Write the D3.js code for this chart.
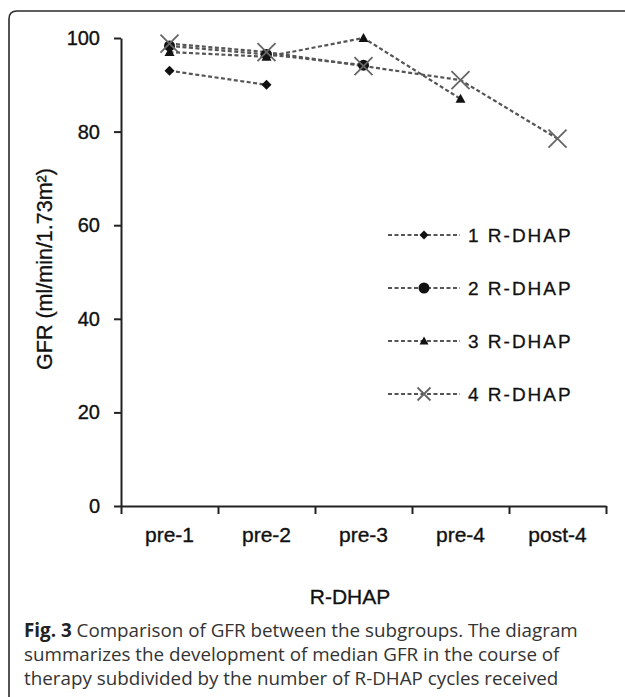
<!DOCTYPE html>
<html>
<head>
<meta charset="utf-8">
<script src="https://cdn.jsdelivr.net/npm/d3@7"></script>
<style>
  html, body { margin: 0; padding: 0; background: #fff; }
  svg { display: block; }
</style>
</head>
<body>
<svg id="chart" width="625" height="697"></svg>
<script>
// ---- data ----
const categories = ["pre-1", "pre-2", "pre-3", "pre-4", "post-4"];
const seriesNames = ["1 R-DHAP", "2 R-DHAP", "3 R-DHAP", "4 R-DHAP"];
const gfr1 = [93, 90, null, null, null];
const gfr2 = [98.3, 96.5, 94.2, null, null];
const gfr3 = [97, 96, 100, 87, null];
const gfr4 = [98.8, 97, 94, 91, 78.5];
const yTicks = [0, 20, 40, 60, 80, 100];
const yTitle = "GFR (ml/min/1.73m²)";
const xTitle = "R-DHAP";
const captionLines = [
  ["Fig. 3", " Comparison of GFR between the subgroups. The diagram"],
  ["", "summarizes the development of median GFR in the course of"],
  ["", "therapy subdivided by the number of R-DHAP cycles received"]
];

const series = [
  { name: seriesNames[0], values: gfr1, marker: "diamond" },
  { name: seriesNames[1], values: gfr2, marker: "circle" },
  { name: seriesNames[2], values: gfr3, marker: "triangle" },
  { name: seriesNames[3], values: gfr4, marker: "cross" }
];

const svg = d3.select("#chart");
const pLeft = 121, pRight = 606, pTop = 38, pBottom = 506;

// frame (rounded top-left corner, open right side)
svg.append("path")
  .attr("d", "M9,697 L9,19 Q9,11 17,11 L625,11")
  .attr("fill", "none").attr("stroke", "#2a2a2a").attr("stroke-width", 1.6);

const x = d3.scaleBand().domain(categories).range([pLeft, pRight]).paddingInner(0).paddingOuter(0);
const xEdge = d3.scaleLinear().domain([0, categories.length]).range([pLeft, pRight]);
const y = d3.scaleLinear().domain([0, 100]).range([pBottom, pTop]);
const cx = c => x(c) + x.bandwidth() / 2;

const font = "Liberation Sans, Arial, sans-serif";

// y axis
const yAxis = svg.append("g").attr("transform", `translate(${pLeft},0)`)
  .call(d3.axisLeft(y).tickValues(yTicks).tickSize(7).tickSizeOuter(0).tickPadding(14));
yAxis.select(".domain").attr("stroke", "#222").attr("stroke-width", 2);
yAxis.selectAll(".tick line").attr("stroke", "#222").attr("stroke-width", 2);
yAxis.selectAll(".tick text").attr("font-family", font).attr("font-size", 20).attr("fill", "#111")
  .attr("stroke", "#111").attr("stroke-width", 0.35);

// x axis line + edge ticks
const xAxis = svg.append("g").attr("transform", `translate(0,${pBottom})`)
  .call(d3.axisBottom(xEdge).tickValues(d3.range(categories.length + 1)).tickSize(8).tickSizeOuter(0).tickFormat(""));
xAxis.select(".domain").attr("stroke", "#222").attr("stroke-width", 2);
xAxis.selectAll(".tick line").attr("stroke", "#222").attr("stroke-width", 2);

// x category labels
const xLab = svg.append("g").attr("transform", `translate(0,${pBottom})`)
  .call(d3.axisBottom(x).tickSize(0).tickPadding(21));
xLab.select(".domain").remove();
xLab.selectAll(".tick text").attr("font-family", font).attr("font-size", 21).attr("fill", "#111")
  .attr("stroke", "#111").attr("stroke-width", 0.35);

// axis titles
svg.append("text")
  .attr("transform", "translate(52,269) rotate(-90)")
  .attr("text-anchor", "middle")
  .attr("font-family", font).attr("font-size", 21.5).attr("fill", "#111")
  .attr("stroke", "#111").attr("stroke-width", 0.3)
  .text(yTitle);
svg.append("text")
  .attr("x", 350).attr("y", 604)
  .attr("text-anchor", "middle")
  .attr("font-family", font).attr("font-size", 21).attr("fill", "#111")
  .attr("stroke", "#111").attr("stroke-width", 0.3)
  .text(xTitle);

// markers (size = full width in px)
function drawMarker(g, type, size) {
  const h = size / 2;
  if (type === "diamond") {
    g.append("path").attr("d", `M0,${-h}L${h},0L0,${h}L${-h},0Z`).attr("fill", "#111");
  } else if (type === "circle") {
    g.append("circle").attr("r", h).attr("fill", "#111");
  } else if (type === "triangle") {
    g.append("path").attr("d", `M0,${-h}L${h},${h * 0.8}L${-h},${h * 0.8}Z`).attr("fill", "#111");
  } else {
    g.append("path").attr("d", `M${-h},${-h}L${h},${h}M${-h},${h}L${h},${-h}`)
      .attr("stroke", "#666").attr("stroke-width", 1.8).attr("fill", "none");
  }
}
const plotSize = { diamond: 10, circle: 11, triangle: 10, cross: 18 };
const legSize = { diamond: 9, circle: 11, triangle: 9, cross: 13 };

const line = d3.line()
  .defined(d => d.v !== null)
  .x(d => cx(d.c))
  .y(d => y(d.v));

const plot = svg.append("g");
series.forEach(s => {
  const pts = s.values.map((v, i) => ({ c: categories[i], v }));
  plot.append("path")
    .datum(pts)
    .attr("d", line)
    .attr("fill", "none")
    .attr("stroke", "#555")
    .attr("stroke-width", 2.2)
    .attr("stroke-dasharray", "4,2.5");
});
series.forEach(s => {
  s.values.forEach((v, i) => {
    if (v === null) return;
    const g = plot.append("g").attr("transform", `translate(${cx(categories[i])},${y(v)})`);
    drawMarker(g, s.marker, plotSize[s.marker]);
  });
});

// legend
const legY = d3.scaleLinear().domain([0, 3]).range([235, 394]);
series.forEach((s, i) => {
  const ly = legY(i);
  svg.append("line").attr("x1", 388).attr("x2", 460).attr("y1", ly).attr("y2", ly)
    .attr("stroke", "#555").attr("stroke-width", 2).attr("stroke-dasharray", "4,2.5");
  const g = svg.append("g").attr("transform", `translate(424,${ly})`);
  drawMarker(g, s.marker, legSize[s.marker]);
  svg.append("text").attr("x", 468).attr("y", ly + 7)
    .attr("font-family", font).attr("font-size", 19).attr("letter-spacing", 2).attr("fill", "#111")
    .attr("stroke", "#111").attr("stroke-width", 0.3)
    .text(s.name);
});

// caption
const capFont = "'Open Sans', 'Noto Sans', sans-serif";
const cap = svg.append("g");
const baselines = [637, 661, 685];
const texts = captionLines.map((ln, i) => {
  const t = cap.append("text").attr("x", 24).attr("y", baselines[i])
    .attr("font-family", capFont).attr("font-size", 20).attr("fill", "#333");
  if (ln[0]) t.append("tspan").attr("font-weight", "bold").attr("fill", "#222").text(ln[0]);
  t.append("tspan").text(ln[1]);
  return t;
});
const w0 = texts[0].node().getComputedTextLength();
const fs = 20 * 554 / w0;
texts.forEach(t => t.attr("font-size", fs));
</script>
</body>
</html>
